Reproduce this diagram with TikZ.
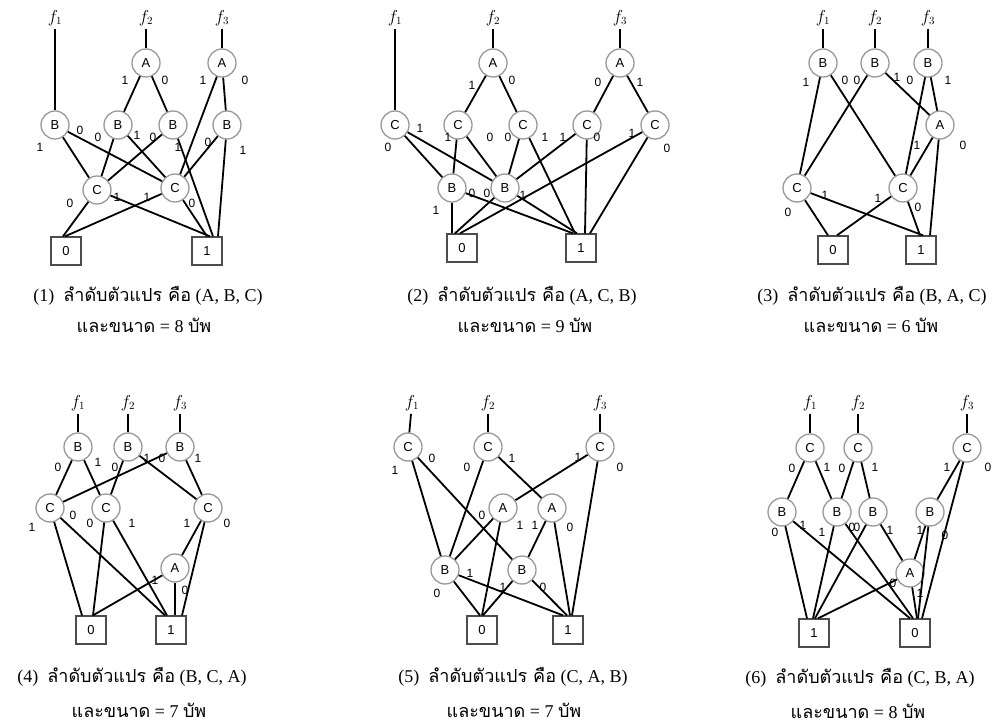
\documentclass[tikz,border=0pt]{standalone}
\usepackage{fontspec}
\setmainfont{Liberation Serif}
\setsansfont{Liberation Sans}
\newfontfamily\thaifont[Script=Thai]{Loma}
\newcounter{elabno}
% edge value label (0/1) placed beside an edge
\newcommand\elab[2]{\stepcounter{elabno}\node[lab] (el\arabic{elabno}) at (#1) {#2};}
\newcommand\thtext[1]{{\thaifont #1}}
\begin{document}
\begin{tikzpicture}[x=1pt,y=-1pt,
  vtx/.style={circle, draw=black!40, line width=1.3pt, minimum size=28pt, inner sep=0pt,
    font=\sffamily\fontsize{13}{13}\selectfont},
  term/.style={rectangle, draw=black!70, line width=1.3pt, minimum width=30pt, minimum height=28pt,
    inner sep=0pt, font=\sffamily\fontsize{13}{13}\selectfont},
  fn/.style={font=\fontsize{16}{16}\selectfont, inner sep=3pt},
  lab/.style={font=\sffamily\fontsize{12}{12}\selectfont, inner sep=0pt},
  link/.style={line width=1.8pt},
  captext/.style={font=\fontsize{18}{18}\selectfont, inner sep=0pt}
]
\useasboundingbox (0,0) rectangle (1007,727);

% ---------- (1) order A, B, C ----------
\node[fn] (p1f1) at (55,18) {$f_1$};
\node[fn] (p1f2) at (146,18) {$f_2$};
\node[fn] (p1f3) at (222,18) {$f_3$};
\node[vtx] (p1A2) at (146,63) {A};
\node[vtx] (p1A3) at (222,63) {A};
\node[vtx] (p1B1) at (55,125) {B};
\node[vtx] (p1B2) at (118,125) {B};
\node[vtx] (p1B3) at (173,125) {B};
\node[vtx] (p1B4) at (227,125) {B};
\node[vtx] (p1C1) at (97,190) {C};
\node[vtx] (p1C2) at (175,188) {C};
\node[term] (p1T0) at (66,251) {0};
\node[term] (p1T1) at (207,251) {1};
\draw[link] (p1f1) -- (p1B1);
\draw[link] (p1f2) -- (p1A2);
\draw[link] (p1f3) -- (p1A3);
\draw[link] (p1A2) -- (p1B2);
\draw[link] (p1A2) -- (p1B3);
\draw[link] (p1A3) -- (p1C2);
\draw[link] (p1A3) -- (p1B4);
\draw[link] (p1B1) -- (p1C1);
\draw[link] (p1B1) -- (p1C2);
\draw[link] (p1B2) -- (p1C1);
\draw[link] (p1B2) -- (p1C2);
\draw[link] (p1B3) -- (p1C1);
\draw[link] (p1B3) -- ([xshift=6pt]p1T1.north);
\draw[link] (p1B4) -- (p1C2);
\draw[link] (p1B4) -- ([xshift=11pt]p1T1.north);
\draw[link] (p1C1) -- ([xshift=-3pt]p1T0.north);
\draw[link] (p1C1) -- ([xshift=3pt]p1T1.north);
\draw[link] (p1C2) -- ([xshift=-1pt]p1T0.north);
\draw[link] (p1C2) -- (p1T1.north);
\elab{125,80}{1} \elab{165,80}{0} \elab{203,80}{1} \elab{245,80}{0}
\elab{40,147}{1} \elab{80,130}{0} \elab{98,137}{0} \elab{137,135}{1}
\elab{153,137}{0} \elab{178,147}{1} \elab{208,142}{0} \elab{243,150}{1}
\elab{70,203}{0} \elab{117,197}{1} \elab{147,197}{1} \elab{192,203}{0}

% ---------- (2) order A, C, B ----------
\node[fn] (p2f1) at (395,18) {$f_1$};
\node[fn] (p2f2) at (493,18) {$f_2$};
\node[fn] (p2f3) at (620,18) {$f_3$};
\node[vtx] (p2A2) at (493,63) {A};
\node[vtx] (p2A3) at (620,63) {A};
\node[vtx] (p2C1) at (395,125) {C};
\node[vtx] (p2C2) at (458,125) {C};
\node[vtx] (p2C3) at (523,125) {C};
\node[vtx] (p2C4) at (587,125) {C};
\node[vtx] (p2C5) at (655,125) {C};
\node[vtx] (p2B1) at (452,188) {B};
\node[vtx] (p2B2) at (505,188) {B};
\node[term] (p2T0) at (462,248) {0};
\node[term] (p2T1) at (581,248) {1};
\draw[link] (p2f1) -- (p2C1);
\draw[link] (p2f2) -- (p2A2);
\draw[link] (p2f3) -- (p2A3);
\draw[link] (p2A2) -- (p2C2);
\draw[link] (p2A2) -- (p2C3);
\draw[link] (p2A3) -- (p2C4);
\draw[link] (p2A3) -- (p2C5);
\draw[link] (p2C1) -- (p2B1);
\draw[link] (p2C1) -- (p2B2);
\draw[link] (p2C2) -- (p2B1);
\draw[link] (p2C2) -- (p2B2);
\draw[link] (p2C3) -- (p2B2);
\draw[link] (p2C3) -- ([xshift=-6pt]p2T1.north);
\draw[link] (p2C4) -- (p2B2);
\draw[link] (p2C4) -- ([xshift=4pt]p2T1.north);
\draw[link] (p2C5) -- ([xshift=-2pt]p2T0.north);
\draw[link] (p2C5) -- ([xshift=9pt]p2T1.north);
\draw[link] (p2B1) -- ([xshift=-10pt]p2T0.north);
\draw[link] (p2B1) -- ([xshift=-8pt]p2T1.north);
\draw[link] (p2B2) -- ([xshift=-7pt]p2T0.north);
\draw[link] (p2B2) -- ([xshift=-4pt]p2T1.north);
\elab{472,85}{1} \elab{512,80}{0} \elab{598,82}{0} \elab{640,82}{1}
\elab{420,128}{1} \elab{388,147}{0} \elab{448,137}{1} \elab{490,137}{0}
\elab{508,137}{0} \elab{545,137}{1} \elab{563,137}{1} \elab{597,137}{0}
\elab{632,133}{1} \elab{667,148}{0}
\elab{436,210}{1} \elab{472,193}{0} \elab{487,193}{0} \elab{523,195}{1}

% ---------- (3) order B, A, C ----------
\node[fn] (p3f1) at (823,18) {$f_1$};
\node[fn] (p3f2) at (875,18) {$f_2$};
\node[fn] (p3f3) at (928,18) {$f_3$};
\node[vtx] (p3B1) at (823,63) {B};
\node[vtx] (p3B2) at (875,63) {B};
\node[vtx] (p3B3) at (928,63) {B};
\node[vtx] (p3A) at (940,125) {A};
\node[vtx] (p3C1) at (797,188) {C};
\node[vtx] (p3C2) at (903,188) {C};
\node[term] (p3T0) at (833,250) {0};
\node[term] (p3T1) at (921,250) {1};
\draw[link] (p3f1) -- (p3B1);
\draw[link] (p3f2) -- (p3B2);
\draw[link] (p3f3) -- (p3B3);
\draw[link] (p3B1) -- (p3C1);
\draw[link] (p3B1) -- (p3C2);
\draw[link] (p3B2) -- (p3C1);
\draw[link] (p3B2) -- (p3A);
\draw[link] (p3B3) -- (p3C2);
\draw[link] (p3B3) -- (p3A);
\draw[link] (p3A) -- (p3C2);
\draw[link] (p3A) -- ([xshift=9pt]p3T1.north);
\draw[link] (p3C1) -- ([xshift=-5pt]p3T0.north);
\draw[link] (p3C1) -- ([xshift=2pt]p3T1.north);
\draw[link] (p3C2) -- ([xshift=4pt]p3T0.north);
\draw[link] (p3C2) -- ([xshift=-1pt]p3T1.north);
\elab{806,82}{1} \elab{845,80}{0} \elab{857,80}{0} \elab{897,77}{1}
\elab{910,80}{0} \elab{948,80}{1} \elab{917,145}{1} \elab{963,145}{0}
\elab{788,212}{0} \elab{825,195}{1} \elab{878,198}{1} \elab{918,207}{0}

% ---------- (4) order B, C, A ----------
\node[fn] (p4f1) at (78,403) {$f_1$};
\node[fn] (p4f2) at (128,403) {$f_2$};
\node[fn] (p4f3) at (180,403) {$f_3$};
\node[vtx] (p4B1) at (78,447) {B};
\node[vtx] (p4B2) at (128,447) {B};
\node[vtx] (p4B3) at (180,447) {B};
\node[vtx] (p4C1) at (50,508) {C};
\node[vtx] (p4C2) at (106,508) {C};
\node[vtx] (p4C3) at (208,508) {C};
\node[vtx] (p4A) at (175,568) {A};
\node[term] (p4T0) at (91,630) {0};
\node[term] (p4T1) at (171,630) {1};
\draw[link] (p4f1) -- (p4B1);
\draw[link] (p4f2) -- (p4B2);
\draw[link] (p4f3) -- (p4B3);
\draw[link] (p4B1) -- (p4C1);
\draw[link] (p4B1) -- (p4C2);
\draw[link] (p4B2) -- (p4C2);
\draw[link] (p4B2) -- (p4C3);
\draw[link] (p4B3) -- (p4C1);
\draw[link] (p4B3) -- (p4C3);
\draw[link] (p4C1) -- ([xshift=-9pt]p4T0.north);
\draw[link] (p4C1) -- ([xshift=-6pt]p4T1.north);
\draw[link] (p4C2) -- ([xshift=2pt]p4T0.north);
\draw[link] (p4C2) -- ([xshift=-4pt]p4T1.north);
\draw[link] (p4C3) -- (p4A);
\draw[link] (p4C3) -- ([xshift=11pt]p4T1.north);
\draw[link] (p4A) -- ([xshift=2pt]p4T0.north);
\draw[link] (p4A) -- ([xshift=4pt]p4T1.north);
\elab{58,467}{0} \elab{98,462}{1} \elab{115,467}{0} \elab{147,458}{1}
\elab{162,458}{0} \elab{198,458}{1} \elab{32,527}{1} \elab{73,515}{0}
\elab{90,523}{0} \elab{132,523}{1} \elab{187,523}{1} \elab{227,523}{0}
\elab{155,580}{1} \elab{185,590}{0}

% ---------- (5) order C, A, B ----------
\node[fn] (p5f1) at (412,403) {$f_1$};
\node[fn] (p5f2) at (488,403) {$f_2$};
\node[fn] (p5f3) at (600,403) {$f_3$};
\node[vtx] (p5C1) at (408,447) {C};
\node[vtx] (p5C2) at (488,447) {C};
\node[vtx] (p5C3) at (600,447) {C};
\node[vtx] (p5A1) at (503,508) {A};
\node[vtx] (p5A2) at (552,508) {A};
\node[vtx] (p5B1) at (445,570) {B};
\node[vtx] (p5B2) at (522,570) {B};
\node[term] (p5T0) at (482,630) {0};
\node[term] (p5T1) at (568,630) {1};
\draw[link] (p5f1) -- (p5C1);
\draw[link] (p5f2) -- (p5C2);
\draw[link] (p5f3) -- (p5C3);
\draw[link] (p5C1) -- (p5B1);
\draw[link] (p5C1) -- (p5B2);
\draw[link] (p5C2) -- (p5B1);
\draw[link] (p5C2) -- (p5A2);
\draw[link] (p5C3) -- (p5A1);
\draw[link] (p5C3) -- ([xshift=4pt]p5T1.north);
\draw[link] (p5A1) -- (p5B1);
\draw[link] (p5A1) -- (p5T0.north);
\draw[link] (p5A2) -- (p5B2);
\draw[link] (p5A2) -- ([xshift=2pt]p5T1.north);
\draw[link] (p5B1) -- ([xshift=-2pt]p5T0.north);
\draw[link] (p5B1) -- ([xshift=-5pt]p5T1.north);
\draw[link] (p5B2) -- ([xshift=1pt]p5T0.north);
\draw[link] (p5B2) -- ([xshift=-1pt]p5T1.north);
\elab{395,470}{1} \elab{432,458}{0} \elab{467,467}{0} \elab{512,458}{1}
\elab{578,457}{1} \elab{620,467}{0} \elab{482,515}{0} \elab{520,525}{1}
\elab{535,525}{1} \elab{570,527}{0} \elab{437,593}{0} \elab{470,573}{1}
\elab{503,587}{1} \elab{543,587}{0}

% ---------- (6) order C, B, A ----------
\node[fn] (p6f1) at (810,403) {$f_1$};
\node[fn] (p6f2) at (858,403) {$f_2$};
\node[fn] (p6f3) at (967,403) {$f_3$};
\node[vtx] (p6C1) at (810,448) {C};
\node[vtx] (p6C2) at (858,448) {C};
\node[vtx] (p6C3) at (967,448) {C};
\node[vtx] (p6B1) at (782,512) {B};
\node[vtx] (p6B2) at (837,512) {B};
\node[vtx] (p6B3) at (873,512) {B};
\node[vtx] (p6B4) at (930,512) {B};
\node[vtx] (p6A) at (910,573) {A};
\node[term] (p6T1) at (814,633) {1};
\node[term] (p6T0) at (915,633) {0};
\draw[link] (p6f1) -- (p6C1);
\draw[link] (p6f2) -- (p6C2);
\draw[link] (p6f3) -- (p6C3);
\draw[link] (p6C1) -- (p6B1);
\draw[link] (p6C1) -- (p6B2);
\draw[link] (p6C2) -- (p6B2);
\draw[link] (p6C2) -- (p6B3);
\draw[link] (p6C3) -- (p6B4);
\draw[link] (p6C3) -- ([xshift=7pt]p6T0.north);
\draw[link] (p6B1) -- ([xshift=-7pt]p6T1.north);
\draw[link] (p6B1) -- ([xshift=-5pt]p6T0.north);
\draw[link] (p6B2) -- ([xshift=-1pt]p6T1.north);
\draw[link] (p6B2) -- ([xshift=-2pt]p6T0.north);
\draw[link] (p6B3) -- ([xshift=1pt]p6T1.north);
\draw[link] (p6B3) -- (p6A);
\draw[link] (p6B4) -- (p6A);
\draw[link] (p6B4) -- ([xshift=3pt]p6T0.north);
\draw[link] (p6A) -- ([xshift=4pt]p6T1.north);
\draw[link] (p6A) -- ([xshift=2pt]p6T0.north);
\elab{792,468}{0} \elab{827,467}{1} \elab{842,468}{0} \elab{875,467}{1}
\elab{947,467}{1} \elab{988,467}{0} \elab{775,532}{0} \elab{803,525}{1}
\elab{822,532}{1} \elab{852,527}{0} \elab{857,527}{0} \elab{890,530}{1}
\elab{920,530}{1} \elab{945,535}{0} \elab{893,583}{0} \elab{920,593}{1}

% ---------- captions ----------
\node[captext] (cap1a) at (148,296) {(1)\enspace\thtext{ลำดับตัวแปร คือ} (A, B, C)};
\node[captext] (cap1b) at (144,325) {\thtext{และขนาด} = 8 \thtext{บัพ}};
\node[captext] (cap2a) at (522,296) {(2)\enspace\thtext{ลำดับตัวแปร คือ} (A, C, B)};
\node[captext] (cap2b) at (525,325) {\thtext{และขนาด} = 9 \thtext{บัพ}};
\node[captext] (cap3a) at (872,296) {(3)\enspace\thtext{ลำดับตัวแปร คือ} (B, A, C)};
\node[captext] (cap3b) at (871,325) {\thtext{และขนาด} = 6 \thtext{บัพ}};
\node[captext] (cap4a) at (132,677) {(4)\enspace\thtext{ลำดับตัวแปร คือ} (B, C, A)};
\node[captext] (cap4b) at (139,710) {\thtext{และขนาด} = 7 \thtext{บัพ}};
\node[captext] (cap5a) at (513,677) {(5)\enspace\thtext{ลำดับตัวแปร คือ} (C, A, B)};
\node[captext] (cap5b) at (514,710) {\thtext{และขนาด} = 7 \thtext{บัพ}};
\node[captext] (cap6a) at (860,678) {(6)\enspace\thtext{ลำดับตัวแปร คือ} (C, B, A)};
\node[captext] (cap6b) at (858,711) {\thtext{และขนาด} = 8 \thtext{บัพ}};
\end{tikzpicture}
\end{document}
